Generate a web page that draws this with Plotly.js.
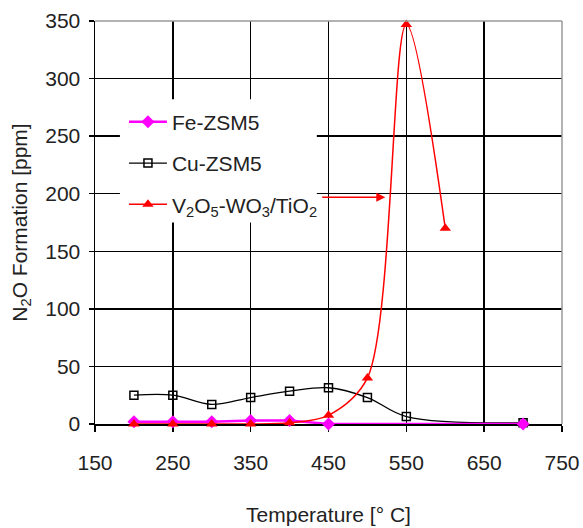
<!DOCTYPE html>
<html>
<head>
<meta charset="utf-8">
<script src="https://cdn.plot.ly/plotly-3.0.1.min.js"></script>
<style>html,body{margin:0;padding:0;background:#fff;}#chart{width:583px;height:528px;}</style>
</head>
<body>
<div id="chart"></div>
<script>
// Data
var feTemp = [200, 250, 300, 350, 400, 450, 700];
var feN2O  = [2, 2, 2, 3, 3, 0, 0];

var cuTemp = [200, 250, 300, 350, 400, 450, 500, 550, 700];
var cuN2O  = [25, 25, 17, 23, 28.5, 31.5, 23, 6.5, 1];

var vTemp = [200, 250, 300, 350, 400, 450, 500, 550, 600];
var vN2O  = [0, 0, 0, 0, 1, 7.5, 40, 347, 170];

var xTicks = [150, 250, 350, 450, 550, 650, 750];
var yTicks = [0, 50, 100, 150, 200, 250, 300, 350];

var FONT = 'Liberation Sans, Arial, sans-serif';
var TXT = '#222';
var FS = 21;

var traces = [
  {
    x: cuTemp, y: cuN2O, name: 'Cu-ZSM5', type: 'scatter', mode: 'lines+markers',
    line: {color: '#000', width: 1.3, shape: 'spline', smoothing: 1},
    marker: {symbol: 'square-open', size: 8, color: '#000', line: {width: 1.5}},
    legendrank: 2, legendgroup: 'b', cliponaxis: false
  },
  {
    x: feTemp, y: feN2O, name: 'Fe-ZSM5', type: 'scatter', mode: 'lines+markers',
    line: {color: '#ff00ff', width: 2.5},
    marker: {symbol: 'diamond', size: 10, color: '#ff00ff'},
    legendrank: 1, legendgroup: 'a', cliponaxis: false
  },
  {
    x: vTemp, y: vN2O, name: 'V<sub>2</sub>O<sub>5</sub>-WO<sub>3</sub>/TiO<sub>2</sub>',
    type: 'scatter', mode: 'lines+markers',
    line: {color: '#ff0000', width: 1.5, shape: 'spline', smoothing: 0.9},
    marker: {symbol: 'triangle-up', size: 10, color: '#ff0000'},
    legendrank: 3, legendgroup: 'c', cliponaxis: false
  }
];

var layout = {
  width: 583, height: 528,
  margin: {l: 95, r: 21, t: 21, b: 104},
  paper_bgcolor: '#fff', plot_bgcolor: '#fff',
  font: {family: FONT, size: FS, color: TXT},
  showlegend: true,
  legend: {
    x: 0.062, y: 0.80, xanchor: 'left', yanchor: 'top',
    bgcolor: 'rgba(0,0,0,0)', borderwidth: 0,
    font: {family: FONT, size: FS, color: TXT},
    traceorder: 'grouped', tracegroupgap: 11,
    itemwidth: 38
  },
  xaxis: {
    range: [150, 750], tickvals: xTicks, ticktext: xTicks.map(String),
    showline: true, linecolor: '#000', linewidth: 1.5, layer: 'below traces',
    ticks: 'outside', ticklen: 6, tickcolor: '#000', tickwidth: 1.5,
    ticklabelstandoff: 13,
    showgrid: true, gridcolor: '#000', gridwidth: 1.5, zeroline: false,
    tickfont: {family: FONT, size: FS, color: TXT},
    title: {text: 'Temperature [° C]', font: {family: FONT, size: FS, color: TXT}, standoff: 34}
  },
  yaxis: {
    range: [0, 350], tickvals: yTicks, ticktext: yTicks.map(String),
    showline: true, linecolor: '#000', linewidth: 1.5, layer: 'below traces',
    ticks: 'outside', ticklen: 5, tickcolor: '#000', tickwidth: 1.5,
    ticklabelstandoff: 4,
    showgrid: true, gridcolor: '#000', gridwidth: 1.5, zeroline: false,
    tickfont: {family: FONT, size: FS, color: TXT},
    title: {text: 'N<sub>2</sub>O Formation [ppm]', font: {family: FONT, size: FS, color: TXT}, standoff: 12}
  },
  shapes: [
    // white legend backdrop hiding gridlines
    {type: 'rect', xref: 'x', yref: 'y', x0: 182, x1: 435, y0: 175, y1: 282,
     fillcolor: '#fff', line: {width: 0}, layer: 'between'},
    // light gray top and right frame
    {type: 'line', xref: 'paper', yref: 'paper', x0: 0, x1: 1, y0: 1, y1: 1,
     line: {color: '#999', width: 1.5}, layer: 'above'},
    {type: 'line', xref: 'paper', yref: 'paper', x0: 1, x1: 1, y0: 0, y1: 1,
     line: {color: '#999', width: 1.5}, layer: 'above'}
  ],
  annotations: [
    {x: 523, y: 197, ax: 440, ay: 197, xref: 'x', yref: 'y', axref: 'x', ayref: 'y',
     text: '', showarrow: true, arrowhead: 2, arrowsize: 1.2, arrowwidth: 1.5, arrowcolor: '#ff0000'}
  ]
};

Plotly.newPlot('chart', traces, layout, {displayModeBar: false, staticPlot: true});
</script>
</body>
</html>
